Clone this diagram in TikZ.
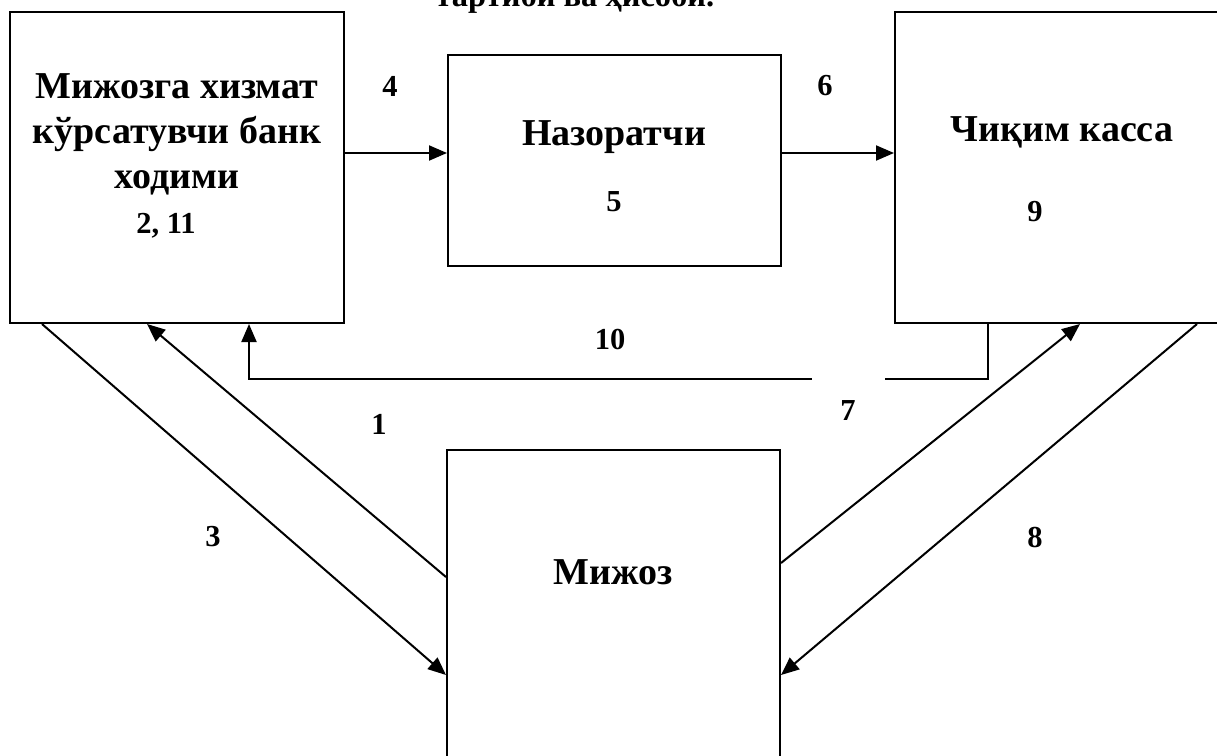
\documentclass[tikz,border=0pt]{standalone}
\usepackage{fontspec}
\setmainfont{Liberation Serif}
\usetikzlibrary{arrows.meta}
\begin{document}
\begin{tikzpicture}[x=1pt,y=-1pt,
  box/.style={draw=black,line width=2pt,minimum width=#1,inner sep=0pt},
  big/.style={font=\fontsize{38}{45}\selectfont\bfseries,align=center,inner sep=0pt},
  num/.style={font=\fontsize{30.5}{36}\selectfont\bfseries,inner sep=0pt},
  conn/.style={line width=2pt,draw=black},
  arr/.style={conn,-{Triangle[length=18pt,width=15pt]}}]
\useasboundingbox (0,0) rectangle (1217,755);
% boxes
\node[box=334pt,minimum height=311pt] (L) at (177,167.5) {};
\node[box=333pt,minimum height=211pt] (M) at (614.5,160.5) {};
\node[box=340pt,minimum height=311pt] (R) at (1065,167.5) {};
\node[box=333pt,minimum height=330pt] (C) at (613.5,615) {};
% title (cut off at top, as in the source)
\node[font=\fontsize{32.5}{38}\selectfont\bfseries,inner sep=0pt,anchor=base] (title) at (575,6) {тартиби ва ҳисоби.};
% box texts
\node[big] (Ltxt) at (177,134) {Мижозга хизмат\\кўрсатувчи банк\\ходими};
\node[num] (Lnum) at (166,226) {2, 11};
\node[big] (Mtxt) at (614,137) {Назоратчи};
\node[num] (Mnum) at (614,202) {5};
\node[big] (Rtxt) at (1062,132) {Чиқим касса};
\node[num] (Rnum) at (1035,212) {9};
\node[big] (Ctxt) at (613,572) {Мижоз};
% connectors
\draw[arr] (L.east |- 0,153) -- (M.west |- 0,153);
\draw[arr] (M.east |- 0,153) -- (R.west |- 0,153);
\draw[arr] (R.south -| 988,0) -- (988,379) -| (L.south -| 249,0);
\draw[arr] (C.west |- 0,577) -- (L.south -| 147,0);
\draw[arr] (L.south -| 42,0) -- (C.west |- 0,675);
\draw[arr] (C.east |- 0,563) -- (R.south -| 1080,0);
\draw[arr] (R.south -| 1197,0) -- (C.east |- 0,675);
% labels
\node[num] (n4) at (390,86) {4};
\node[num] (n6) at (825,86) {6};
\node[num] (n10) at (610,340) {10};
\node[num] (n1) at (379,424) {1};
\node[num,fill=white,minimum width=73pt,minimum height=66pt] (n7) at (848,411) {7};
\node[num] (n3) at (213,537) {3};
\node[num] (n8) at (1035,537) {8};
\end{tikzpicture}
\end{document}
